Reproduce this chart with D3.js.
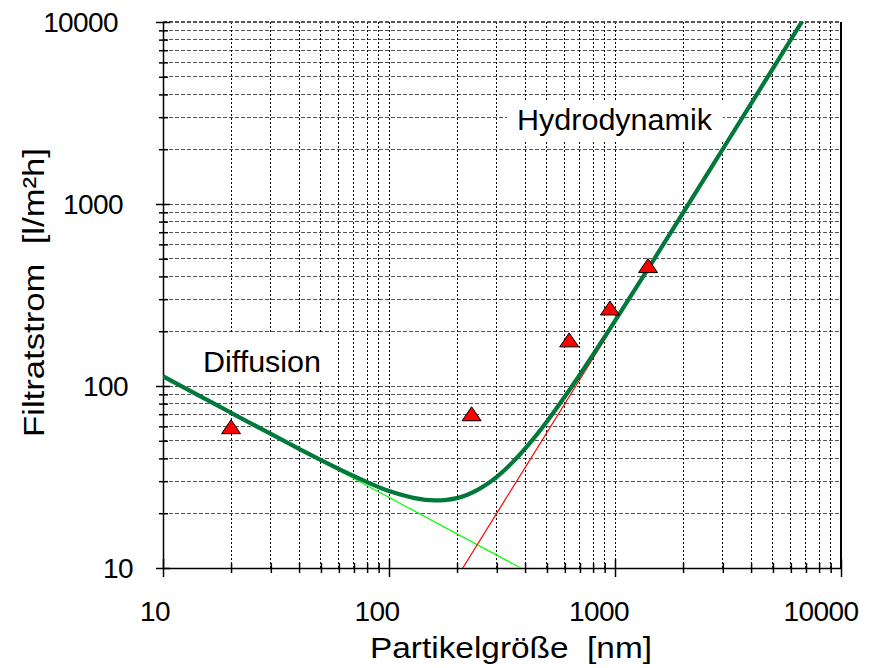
<!DOCTYPE html>
<html><head><meta charset="utf-8">
<script src="https://cdn.jsdelivr.net/npm/d3@7"></script>
<style>body{margin:0;background:#fff}svg{display:block}text{font-family:"Liberation Sans",Arial,sans-serif;fill:#000;white-space:pre}</style>
</head><body><svg id="c" width="883" height="668"></svg>
<script>
// ---- data ----
const xTickValues = [10, 100, 1000, 10000];
const yTickValues = [10, 100, 1000, 10000];
const xTickLabels = ["10", "100", "1000", "10000"];
const yTickLabels = ["10", "100", "1000", "10000"];
// total filtrate flux curve
const curveX = [10, 15, 20, 30, 40, 50, 70, 100, 120, 130, 160, 180, 200, 250, 300, 350, 400, 500, 600, 700, 1000, 1500, 2000, 3000, 5000, 7000];
const curveY = [113, 86.4, 71.3, 54.5, 45.2, 39.2, 32.0, 26.5, 24.8, 24.2, 23.5, 23.7, 24.2, 27.1, 31.7, 37.8, 45.3, 63.9, 87.5, 115.7, 227.7, 504.7, 893, 2005, 5565, 10903];
// diffusion asymptote
const diffX = [10, 383];
const diffY = [113, 10];
// hydrodynamic asymptote
const hydroX = [212, 1000];
const hydroY = [10, 222];
// measured points
const measX = [20, 232, 627, 950, 1400];
const measY = [59, 69.5, 177, 265, 453];
const xTitle = "Partikelgröße\u00a0\u00a0[nm]";
const yTitle = "Filtratstrom\u00a0\u00a0[l/m²h]";
const labelDiff = "Diffusion";
const labelHydro = "Hydrodynamik";

// ---- drawing ----
const svg = d3.select("#c");
const x = d3.scaleLog().domain([10, 10000]).range([163, 841]);
const y = d3.scaleLog().domain([10, 10000]).range([568, 22]);

const minors = [];
[10, 100, 1000].forEach(d => { for (let k = 2; k <= 9; k++) minors.push(d * k); });
const majors = [100, 1000];

const grid = svg.append("g").attr("shape-rendering", "crispEdges");
// horizontal gray dashed gridlines
grid.selectAll("line.h").data(minors.concat(majors)).join("line")
  .attr("x1", x(10)).attr("x2", x(10000))
  .attr("y1", d => y(d)).attr("y2", d => y(d))
  .attr("stroke", "#555").attr("stroke-width", 1).attr("stroke-dasharray", "4,2");
// vertical black dotted gridlines
grid.selectAll("line.v").data(minors.concat(majors)).join("line")
  .attr("y1", y(10)).attr("y2", y(10000))
  .attr("x1", d => x(d)).attr("x2", d => x(d))
  .attr("stroke", "#000").attr("stroke-width", 1).attr("stroke-dasharray", "2,2");
// top border (10000)
grid.append("line").attr("x1", x(10)).attr("x2", x(10000)).attr("y1", y(10000)).attr("y2", y(10000))
  .attr("stroke", "#555").attr("stroke-width", 2).attr("stroke-dasharray", "4,2");
// right border (10000)
grid.append("line").attr("x1", x(10000)).attr("x2", x(10000)).attr("y1", y(10000)).attr("y2", y(10))
  .attr("stroke", "#000").attr("stroke-width", 1.5);

// white label boxes
svg.append("rect").attr("x", 190).attr("y", 334).attr("width", 143).attr("height", 48).attr("fill", "#fff");
svg.append("rect").attr("x", 507).attr("y", 101).attr("width", 216).attr("height", 41).attr("fill", "#fff");

// axes
const allTicks = [10].concat(minors, majors, [10000]);
const isMajor = d => [10, 100, 1000, 10000].includes(d);
const xAxis = svg.append("g").attr("transform", `translate(0,${y(10)})`)
  .call(d3.axisBottom(x).tickValues(allTicks).tickFormat("").tickSizeOuter(0));
xAxis.select(".domain").attr("stroke", "#000").attr("stroke-width", 1.5);
xAxis.selectAll(".tick line").attr("stroke", "#000").attr("stroke-width", 1.5)
  .attr("y1", d => isMajor(d) ? -9 : -5).attr("y2", d => isMajor(d) ? 9 : 5);
const yAxis = svg.append("g").attr("transform", `translate(${x(10)},0)`)
  .call(d3.axisLeft(y).tickValues(allTicks).tickFormat("").tickSizeOuter(0));
yAxis.select(".domain").attr("stroke", "#000").attr("stroke-width", 1.5);
yAxis.selectAll(".tick line").attr("stroke", "#000").attr("stroke-width", 1.5)
  .attr("x1", d => isMajor(d) ? -7 : -4).attr("x2", d => isMajor(d) ? 7 : 5);

// tick labels
svg.selectAll("text.xl").data(xTickValues).join("text")
  .attr("x", (d, i) => x(d) - 11.5 * xTickLabels[i].length).attr("y", 621)
  .attr("font-size", 28).attr("letter-spacing", -0.6).text((d, i) => xTickLabels[i]);
svg.selectAll("text.yl").data(yTickValues).join("text")
  .attr("x", (d, i) => x(10) - 20 - 5 * yTickLabels[i].length).attr("y", d => y(d) + 10)
  .attr("text-anchor", "end").attr("font-size", 28).attr("letter-spacing", -0.6).text((d, i) => yTickLabels[i]);

// titles
svg.append("text").attr("x", 370).attr("y", 658).attr("font-size", 30)
  .attr("textLength", 282).attr("lengthAdjust", "spacingAndGlyphs").text(xTitle);
svg.append("text").attr("transform", "translate(44,437) rotate(-90)").attr("font-size", 30)
  .attr("textLength", 289).attr("lengthAdjust", "spacingAndGlyphs").text(yTitle);

// annotations
svg.append("text").attr("x", 203).attr("y", 372).attr("font-size", 30)
  .attr("textLength", 118).attr("lengthAdjust", "spacingAndGlyphs").text(labelDiff);
svg.append("text").attr("x", 517).attr("y", 130).attr("font-size", 29)
  .attr("textLength", 195).attr("lengthAdjust", "spacingAndGlyphs").text(labelHydro);

// clip
svg.append("clipPath").attr("id", "plot").append("rect")
  .attr("x", x(10)).attr("y", y(10000)).attr("width", x(10000) - x(10)).attr("height", y(10) - y(10000));
const plot = svg.append("g").attr("clip-path", "url(#plot)");
const line = d3.line().x(d => x(d[0])).y(d => y(d[1]));

plot.append("path").datum(diffX.map((v, i) => [v, diffY[i]]))
  .attr("d", line).attr("fill", "none").attr("stroke", "#00ff00").attr("stroke-width", 1.2);
plot.append("path").datum(hydroX.map((v, i) => [v, hydroY[i]]))
  .attr("d", line).attr("fill", "none").attr("stroke", "#ff0000").attr("stroke-width", 1.2);
plot.append("path").datum(curveX.map((v, i) => [v, curveY[i]]))
  .attr("d", line.curve(d3.curveMonotoneX)).attr("fill", "none").attr("stroke", "#00793a").attr("stroke-width", 4.2);

// triangles
svg.selectAll("path.m").data(measX.map((v, i) => [v, measY[i]])).join("path")
  .attr("d", "M0,-8L9.5,6L-9.5,6Z")
  .attr("transform", d => `translate(${x(d[0])},${y(d[1])})`)
  .attr("fill", "#ff0000").attr("stroke", "#000").attr("stroke-width", 1);
</script></body></html>
